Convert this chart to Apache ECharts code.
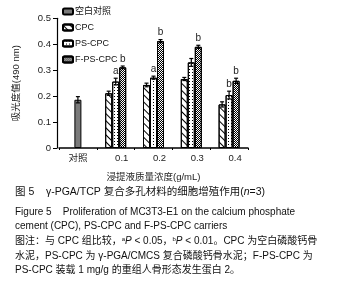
<!DOCTYPE html>
<html>
<head>
<meta charset="utf-8">
<script src="https://cdn.jsdelivr.net/npm/echarts@6/dist/echarts.min.js"></script>
<style>
  html, body { margin: 0; padding: 0; background: #fff; }
  #chart { width: 345px; height: 286px; }
</style>
</head>
<body>
<div id="chart"></div>
<script>
// categories and values
const categories = ['对照', '0.1', '0.2', '0.3', '0.4'];
const blank = [0.186, null, null, null, null];
const blankErr = [0.012, null, null, null, null];
const cpc = [null, 0.211, 0.243, 0.266, 0.168];
const cpcErr = [null, 0.008, 0.007, 0.006, 0.010];
const ps = [null, 0.256, 0.271, 0.330, 0.204];
const psErr = [null, 0.013, 0.006, 0.015, 0.015];
const fps = [null, 0.311, 0.412, 0.390, 0.259];
const fpsErr = [null, 0.005, 0.006, 0.006, 0.010];
const psSig = ['', 'a', 'a', '', 'b'];
const fpsSig = ['', 'b', 'b', 'b', 'b'];
const yTicks = [0, 0.1, 0.2, 0.3, 0.4, 0.5];

const FONT = "'Liberation Sans', 'Noto Sans CJK SC', sans-serif";
const BAR_W = 7;

// error bar rows: [category index, value, error, slot, letter]
function errRows(vals, errs, slot, sig) {
  const out = [];
  vals.forEach((v, i) => {
    if (v != null) out.push([i, v, errs[i], slot, sig ? sig[i] : '']);
  });
  return out;
}
const errData = []
  .concat(errRows(blank, blankErr, 0, null))
  .concat(errRows(cpc, cpcErr, -1, null))
  .concat(errRows(ps, psErr, 0, psSig))
  .concat(errRows(fps, fpsErr, 1, fpsSig));

const barBase = {
  type: 'bar',
  barWidth: BAR_W,
  barGap: '0%',
  itemStyle: { borderColor: '#000', borderWidth: 1 }
};

const chart = echarts.init(document.getElementById('chart'), null, { renderer: 'canvas' });
chart.setOption({
  animation: false,
  backgroundColor: '#fff',
  textStyle: { fontFamily: FONT },
  grid: { left: 59, right: 97, top: 18.3, bottom: 138 },
  legend: {
    orient: 'vertical',
    left: 62,
    top: 7,
    padding: 0,
    itemWidth: 10,
    itemHeight: 6,
    itemGap: 7,
    textStyle: { fontSize: 9, color: '#111', fontFamily: FONT, padding: [0, 0, 0, -3] },
    data: ['空白对照', 'CPC', 'PS-CPC', 'F-PS-CPC']
  },
  xAxis: {
    type: 'category',
    data: categories,
    name: '浸提液质量浓度(g/mL)',
    nameLocation: 'middle',
    nameGap: 25,
    nameTextStyle: { fontSize: 9.5, color: '#222', fontFamily: FONT },
    axisLine: { lineStyle: { color: '#000', width: 1.5 } },
    axisTick: { show: true, length: 2, lineStyle: { color: '#000' } },
    axisLabel: {
      fontSize: 9.5,
      color: '#222',
      margin: 6,
      formatter: v => v === '对照' ? v : '{s|' + v + '}',
      rich: { s: { fontSize: 9.5, color: '#222', padding: [0, 0, 0, 12] } }
    }
  },
  yAxis: {
    type: 'value',
    min: 0,
    max: 0.5,
    interval: 0.1,
    offset: 2,
    name: '吸光度值(490 nm)',
    nameLocation: 'middle',
    nameRotate: 90,
    nameGap: 36,
    nameTextStyle: { fontSize: 9.5, color: '#222', fontFamily: FONT },
    axisLine: { show: true, lineStyle: { color: '#000', width: 1.2 } },
    axisTick: { show: true, length: 4, lineStyle: { color: '#000' } },
    splitLine: { show: false },
    axisLabel: {
      fontSize: 9.5,
      color: '#222',
      margin: 6,
      formatter: v => yTicks.includes(Math.round(v * 10) / 10) ? String(Math.round(v * 10) / 10) : ''
    }
  },
  series: [
    Object.assign({}, barBase, {
      name: 'CPC',
      data: cpc,
      itemStyle: {
        color: '#fff', borderColor: '#000', borderWidth: 1,
        decal: { symbol: 'rect', symbolSize: 1, color: '#000', dashArrayX: [1, 0], dashArrayY: [1, 4], rotation: Math.PI / 4 }
      }
    }),
    Object.assign({}, barBase, {
      name: '空白对照',
      stack: 'mid',
      data: blank,
      itemStyle: { color: '#7a7a7a', borderColor: '#000', borderWidth: 1 }
    }),
    Object.assign({}, barBase, {
      name: 'PS-CPC',
      stack: 'mid',
      data: ps,
      itemStyle: {
        color: '#fff', borderColor: '#000', borderWidth: 1,
        decal: { symbol: 'rect', symbolSize: 1, color: '#000', dashArrayX: [1, 2], dashArrayY: [1, 2] }
      }
    }),
    Object.assign({}, barBase, {
      name: 'F-PS-CPC',
      data: fps,
      itemStyle: {
        color: '#fff', borderColor: '#000', borderWidth: 1,
        decal: { symbol: 'rect', symbolSize: 1, color: '#000', dashArrayX: [[1, 1], [0, 1, 1, 0]], dashArrayY: [1, 0] }
      }
    }),
    {
      type: 'custom',
      name: 'err',
      z: 5,
      data: errData,
      encode: { x: 0, y: 1 },
      renderItem: function (params, api) {
        const cat = api.value(0);
        const val = api.value(1);
        const err = api.value(2);
        const slot = api.value(3);
        const sig = api.value(4);
        const top = api.coord([cat, val + err]);
        const bot = api.coord([cat, val - err]);
        const x = top[0] + slot * BAR_W;
        const cap = 2;
        const children = [
          { type: 'line', shape: { x1: x, y1: top[1], x2: x, y2: bot[1] }, style: { stroke: '#000', lineWidth: 1.2 } },
          { type: 'line', shape: { x1: x - cap, y1: top[1], x2: x + cap, y2: top[1] }, style: { stroke: '#000', lineWidth: 1.2 } },
          { type: 'line', shape: { x1: x - cap, y1: bot[1], x2: x + cap, y2: bot[1] }, style: { stroke: '#000', lineWidth: 1.2 } }
        ];
        if (sig) {
          children.push({
            type: 'text',
            style: { text: sig, x: x, y: top[1] - 2, align: 'center', verticalAlign: 'bottom', fontSize: 10, fill: '#222', fontFamily: FONT }
          });
        }
        return { type: 'group', children: children };
      }
    }
  ],
  graphic: [
    {
      type: 'text', left: 15, top: 187,
      style: {
        text: '图 5    γ-PGA/TCP 复合多孔材料的细胞增殖作用({i|n}=3)',
        font: '10.5px ' + FONT, fill: '#111',
        rich: { i: { fontStyle: 'italic', fontSize: 10.5, fill: '#111' } }
      }
    },
    {
      type: 'text', left: 15, top: 207,
      style: { text: 'Figure 5    Proliferation of MC3T3-E1 on the calcium phosphate', font: '10px ' + FONT, fill: '#111' }
    },
    {
      type: 'text', left: 15, top: 221,
      style: { text: 'cement (CPC), PS-CPC and F-PS-CPC carriers', font: '10px ' + FONT, fill: '#111' }
    },
    {
      type: 'text', left: 15, top: 236,
      style: {
        text: '图注：与 CPC 组比较，{sup|a}{i|P} < 0.05，{sup|b}{i|P} < 0.01。CPC 为空白磷酸钙骨',
        font: '10px ' + FONT, fill: '#111',
        rich: {
          i: { fontStyle: 'italic', fontSize: 10, fill: '#111' },
          sup: { fontSize: 6, fill: '#111', verticalAlign: 'top', padding: [0, 0, 5, 0] }
        }
      }
    },
    {
      type: 'text', left: 15, top: 251,
      style: { text: '水泥，PS-CPC 为 γ-PGA/CMCS 复合磷酸钙骨水泥；F-PS-CPC 为', font: '10px ' + FONT, fill: '#111' }
    },
    {
      type: 'text', left: 15, top: 265,
      style: { text: 'PS-CPC 装载 1 mg/g 的重组人骨形态发生蛋白 2。', font: '10px ' + FONT, fill: '#111' }
    }
  ]
});
</script>
</body>
</html>
